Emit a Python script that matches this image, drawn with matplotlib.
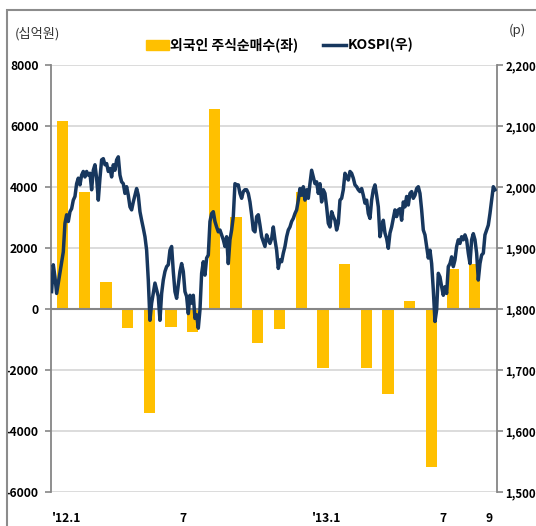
import numpy as np
import matplotlib
matplotlib.use("Agg")
import matplotlib.pyplot as plt
from matplotlib.patches import Rectangle, Patch
from matplotlib.lines import Line2D
from matplotlib.ticker import FuncFormatter

plt.rcParams['font.family'] = ['Noto Sans CJK KR', 'DejaVu Sans']
plt.rcParams['axes.unicode_minus'] = False

# monthly foreign net purchases (십억원), Jan 2012 .. Aug 2013
months = np.arange(20)
net_buy = [6180, 3850, 900, -600, -3410, -570, -730, 6570, 3040, -1110,
           -650, 3850, -1920, 1490, -1920, -2790, 280, -5170, 1320, 1500]

# KOSPI, sampled evenly from early Jan 2012 to early Sep 2013
kospi = [
    1829, 1873, 1853, 1826, 1843, 1859, 1878, 1894, 1941, 1955, 1944, 1960, 1965, 1979, 1985, 2006,
    2015, 2004, 2020, 2026, 2017, 2026, 2020, 2023, 1996, 2028, 2037, 2015, 1979, 2015, 2045, 2047,
    2037, 2039, 2026, 2031, 2017, 2037, 2028, 2045, 2050, 2020, 2009, 2006, 1990, 2001, 1987, 1968,
    1963, 1976, 1987, 1998, 1987, 1960, 1946, 1933, 1919, 1897, 1848, 1782, 1810, 1826, 1843, 1832,
    1821, 1782, 1826, 1848, 1862, 1870, 1873,
    1897, 1903, 1862, 1829, 1818, 1840, 1862, 1875, 1862, 1829, 1821, 1793, 1823, 1810, 1823, 1785,
    1791, 1769, 1799, 1859, 1878, 1856, 1884, 1889, 1944, 1957, 1960, 1944, 1935, 1927, 1930, 1922,
    1914, 1903, 1919, 1875, 1914, 1930, 1952, 2006, 2004, 2004, 1990, 1982, 1993, 1996, 1996, 1990,
    1976, 1955, 1930, 1927, 1952, 1955, 1938, 1919, 1911, 1903, 1922, 1914, 1908, 1916, 1935, 1914,
    1897, 1867, 1881,
    1878, 1892, 1903, 1919, 1930, 1935, 1944, 1949, 1957, 1963, 1979, 1998, 1987, 2001, 1979, 1996,
    1982, 2006, 2028, 2017, 2006, 2009, 1990, 2006, 1976, 1996, 1990, 1968, 1941, 1935, 1960, 1952,
    1946, 1930, 1941, 1979, 1982, 1996, 2023, 2017, 2012, 2026, 2023, 2015, 2004, 2001, 1996, 1993,
    1998, 1987, 1974, 1979, 1957, 1949, 1979, 1996, 2004, 1987, 1968, 1919, 1933, 1946, 1925, 1916,
    1900, 1925, 1935, 1949, 1963,
    1952, 1963, 1965, 1946, 1976, 1968, 1985, 1971, 1990, 1993, 1982, 1987, 1998, 2001, 1990, 1963,
    1930, 1922, 1903, 1884, 1897, 1875, 1832, 1780, 1799, 1859, 1853, 1837, 1823, 1837, 1826, 1870,
    1875, 1886, 1870, 1881, 1903, 1914, 1908, 1919, 1914, 1922, 1914, 1892, 1875, 1914, 1924, 1914,
    1892, 1848, 1875, 1889, 1892, 1922, 1930, 1938, 1957, 1979, 2001, 1996,
]
kospi_x = np.linspace(-0.5, 19.93, len(kospi))

tick_pos = [0.19, 5.55, 12.17, 17.52, 19.65]
tick_labels = ["'12.1", "7", "'13.1", "7", "9"]

BAR = "#FFC000"
LINE = "#17375E"
AXC = "#868686"

fig = plt.figure(figsize=(5.36, 5.26), dpi=100)
ax = fig.add_axes([0.0951, 0.0641, 0.832, 0.8117])

ax.bar(months, net_buy, width=0.52, color=BAR, zorder=2)
ax.set_xlim(-0.53, 20.02)
ax.set_ylim(-6000, 8000)
ax.set_yticks(range(-6000, 8001, 2000))
ax.grid(axis='y', color='#d9d9d9', lw=1.3, zorder=0)
ax.axhline(0, color=AXC, lw=1.5, zorder=3)
for s in ['top', 'bottom', 'right']:
    ax.spines[s].set_visible(False)
ax.spines['left'].set_color(AXC)
ax.spines['left'].set_linewidth(1.3)
ax.tick_params(axis='y', direction='out', length=4.5, color=AXC, width=1.2,
               labelsize=8.7, pad=4.5)
ax.set_xticks(tick_pos)
ax.set_xticklabels(tick_labels)
ax.tick_params(axis='x', length=0, labelsize=8.7, pad=14)
for t in ax.get_yticklabels() + ax.get_xticklabels():
    t.set_fontweight('bold')

ax2 = ax.twinx()
ax2.plot(kospi_x, kospi, color=LINE, lw=2.5, zorder=4)
ax2.set_ylim(1500, 2200)
ax2.set_yticks(range(1500, 2201, 100))
ax2.yaxis.set_major_formatter(FuncFormatter(lambda v, p: f"{int(v):,}"))
for s in ['top', 'bottom', 'left']:
    ax2.spines[s].set_visible(False)
ax2.spines['right'].set_color(AXC)
ax2.spines['right'].set_linewidth(1.3)
ax2.tick_params(axis='y', direction='out', length=4.5, color=AXC, width=1.2,
                labelsize=8.2, pad=1.5)
for t in ax2.get_yticklabels():
    t.set_fontweight('bold')

fig.text(15 / 536, 1 - 34 / 526, "(십억원)", fontsize=9.5, va='center', ha='left',
         color='#333333')
fig.text(509 / 536, 1 - 30 / 526, "(p)", fontsize=9.5, va='center', ha='left',
         color='#333333')

handles = [Patch(color=BAR), Line2D([], [], color=LINE, lw=2.5)]
fig.legend(handles, ["외국인 주식순매수(좌)", "KOSPI(우)"], ncol=2, frameon=False,
           loc='center', bbox_to_anchor=(0.5215, 1 - 45 / 526),
           prop={'size': 10, 'weight': 'bold'}, handlelength=1.65, handleheight=0.72,
           handletextpad=0.1, columnspacing=1.8)

# grey frame around the chart, open at right/bottom edges
fig.patches.append(Rectangle((7 / 536, -0.1), 1.2, 1.1 - 10 / 526,
                             transform=fig.transFigure, fill=False,
                             edgecolor='#8c8c8c', lw=1.5))

fig.savefig("out.png", dpi=100)
